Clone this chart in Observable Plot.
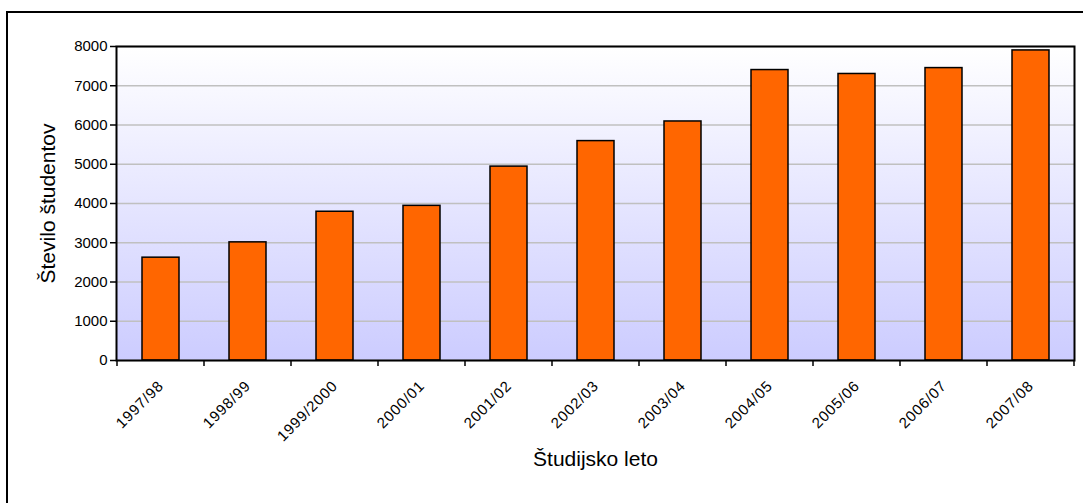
<!DOCTYPE html>
<html>
<head>
<meta charset="utf-8">
<script src="https://cdn.jsdelivr.net/npm/d3@7"></script>
<script src="https://cdn.jsdelivr.net/npm/@observablehq/plot@0.6"></script>
<style>
  body { margin: 0; background: #fff; }
</style>
</head>
<body>
<div id="chart"></div>
<script>
// Academic years and number of enrolled students
const years = ["1997/98", "1998/99", "1999/2000", "2000/01", "2001/02", "2002/03",
               "2003/04", "2004/05", "2005/06", "2006/07", "2007/08"];
const students = [2620, 3010, 3790, 3940, 4940, 5590, 6090, 7400, 7300, 7450, 7900];
const yTicks = [0, 1000, 2000, 3000, 4000, 5000, 6000, 7000, 8000];
const yTitle = "Število študentov";
const xTitle = "Študijsko leto";

const data = years.map((year, i) => ({year, students: students[i]}));

// Tick marks on the boundaries between the year categories
function boundaryTicks(index, scales, values, dims) {
  const x = scales.x;
  const step = x(years[1]) - x(years[0]);
  const bw = typeof x.bandwidth === "function" ? x.bandwidth() : x.bandwidth;
  const start = x(years[0]) - (step - bw) / 2;
  const y0 = dims.height - dims.marginBottom;
  const g = d3.create("svg:g").attr("stroke", "#000").attr("stroke-width", 1.5);
  for (let i = 0; i <= years.length; i++) {
    const px = start + i * step;
    g.append("line").attr("x1", px).attr("x2", px).attr("y1", y0).attr("y2", y0 + 6);
  }
  return g.node();
}

const chart = Plot.plot({
  width: 1083,
  height: 503,
  marginTop: 46,
  marginBottom: 143,
  marginLeft: 116,
  marginRight: 9,
  style: {fontFamily: "'Liberation Sans', Arial, sans-serif", fontSize: "15px", color: "#000", background: "#fff"},
  x: {domain: years, paddingInner: 0.58, paddingOuter: 0.29},
  y: {domain: [0, 8000]},
  marks: [
    Plot.frame({fill: "url(#plotBg)"}),
    Plot.gridY(yTicks, {stroke: "#c0c0c0", strokeOpacity: 1, strokeWidth: 1.5}),
    Plot.barY(data, {x: "year", y: "students", fill: "#ff6600", stroke: "#000", strokeWidth: 1.5}),
    Plot.frame({stroke: "#000", strokeWidth: 2}),
    boundaryTicks,
    Plot.axisY({ticks: yTicks, tickSize: 6, tickPadding: 3, tickFormat: d3.format("d"),
                fontSize: 15, strokeWidth: 1.5, label: null}),
    Plot.axisX({tickSize: 0, tickRotate: -45, tickPadding: 23, fontSize: 15, label: null}),
    Plot.text([yTitle], {frameAnchor: "left", textAnchor: "middle", lineAnchor: "middle",
                         rotate: -90, dx: -68, fontSize: 21}),
    Plot.text([xTitle], {frameAnchor: "bottom", textAnchor: "middle", lineAnchor: "middle",
                         dy: 99, fontSize: 21})
  ]
});

const svg = d3.select(chart);

// Slightly wider spacing in the year labels
svg.selectAll('g[aria-label="x-axis tick label"]').attr("letter-spacing", "0.8px");

// Vertical gradient behind the plot area
const grad = svg.insert("defs", ":first-child")
  .append("linearGradient")
  .attr("id", "plotBg")
  .attr("x1", 0).attr("y1", 0).attr("x2", 0).attr("y2", 1);
grad.append("stop").attr("offset", "0%").attr("stop-color", "#ffffff");
grad.append("stop").attr("offset", "100%").attr("stop-color", "#ccccff");

// Outer chart border
svg.append("path")
  .attr("d", "M7,503V12H1083")
  .attr("fill", "none")
  .attr("stroke", "#000")
  .attr("stroke-width", 2);

document.getElementById("chart").appendChild(chart);
</script>
</body>
</html>
